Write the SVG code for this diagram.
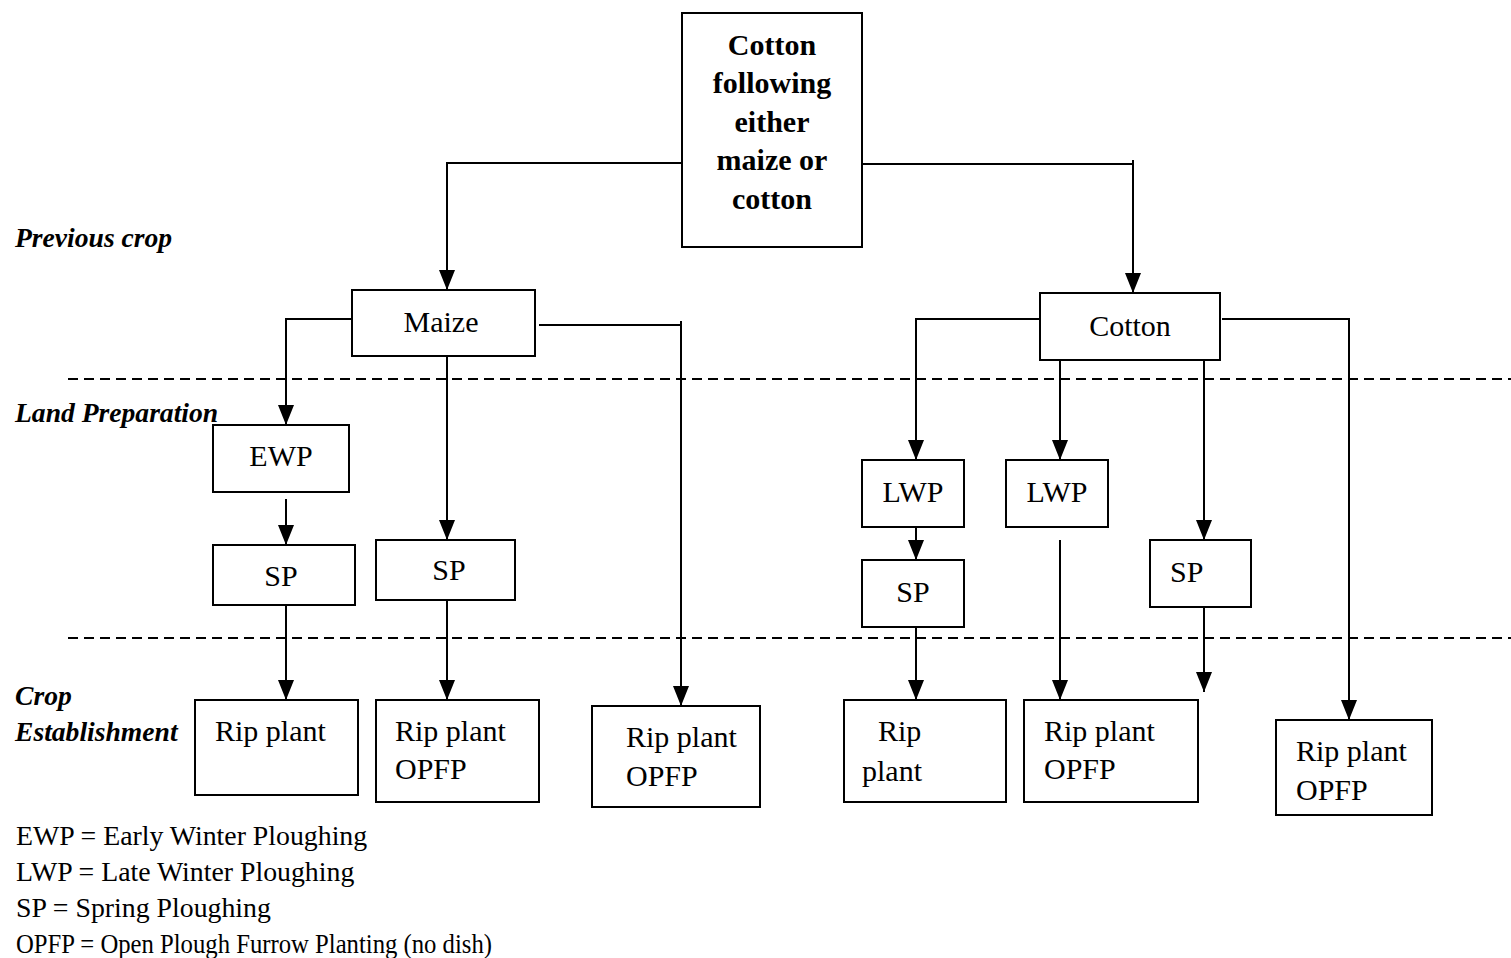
<svg xmlns="http://www.w3.org/2000/svg" width="1511" height="958" viewBox="0 0 1511 958">
<style>
.box{fill:#fff;stroke:#000;stroke-width:2}
.t{font-family:"Liberation Serif","Times New Roman",serif;font-size:30px;fill:#000}
.c{text-anchor:middle}
.b{font-weight:bold;font-size:30px}
.lab{font-family:"Liberation Serif","Times New Roman",serif;font-size:27.6px;font-weight:bold;font-style:italic;fill:#000}
.leg{font-family:"Liberation Serif","Times New Roman",serif;font-size:27.8px;fill:#000}
.ln{fill:none;stroke:#000;stroke-width:2}
.ar{marker-end:url(#ah)}
.dash{fill:none;stroke:#000;stroke-width:2;stroke-dasharray:10 6}
</style>
<defs>
<marker id="ah" viewBox="0 0 20 16" refX="20" refY="8" markerWidth="20" markerHeight="16" markerUnits="userSpaceOnUse" orient="auto">
<path d="M0,0 L20,8 L0,16 Z" fill="#000"/>
</marker>
</defs>
<rect width="1511" height="958" fill="#fff"/>

<g id="dividers">
<line class="dash" x1="68" y1="379" x2="1511" y2="379"/>
<line class="dash" x1="68" y1="638" x2="1511" y2="638"/>
</g>

<g id="labels">
<text class="lab" x="15" y="247">Previous crop</text>
<text class="lab" x="15" y="422">Land Preparation</text>
<text class="lab" x="15" y="705">Crop</text>
<text class="lab" x="15" y="741">Establishment</text>
</g>

<g id="connectors">
<path class="ln ar" d="M682,163 H447 V290"/>
<path class="ln ar" d="M862,164 H1133 M1133,160 V293"/>
<path class="ln ar" d="M358,319 H286 V425"/>
<path class="ln ar" d="M539,325 H681 M681,321 V706"/>
<path class="ln ar" d="M447,356 V540"/>
<path class="ln ar" d="M286,499 V545"/>
<path class="ln ar" d="M286,598 V700"/>
<path class="ln ar" d="M447,600 V700"/>
<path class="ln ar" d="M1043,319 H916 V460"/>
<path class="ln ar" d="M1222,319 H1349 V720"/>
<path class="ln ar" d="M1060,358 V460"/>
<path class="ln ar" d="M1204,358 V540"/>
<path class="ln ar" d="M916,520 V560"/>
<path class="ln ar" d="M916,620 V700"/>
<path class="ln ar" d="M1060,540 V700"/>
<path class="ln ar" d="M1204,600 V692"/>
</g>

<g id="root">
<rect class="box" x="682" y="13" width="180" height="234"/>
<text class="t c b" x="772" y="55">Cotton</text>
<text class="t c b" x="772" y="93">following</text>
<text class="t c b" x="772" y="132">either</text>
<text class="t c b" x="772" y="170">maize or</text>
<text class="t c b" x="772" y="209">cotton</text>
</g>

<g id="maize">
<rect class="box" x="352" y="290" width="183" height="66"/>
<text class="t c" x="441" y="332">Maize</text>
</g>
<g id="cotton">
<rect class="box" x="1040" y="293" width="180" height="67"/>
<text class="t c" x="1130" y="336">Cotton</text>
</g>

<g id="ewp">
<rect class="box" x="213" y="425" width="136" height="67"/>
<text class="t c" x="281" y="466">EWP</text>
</g>
<g id="sp1">
<rect class="box" x="213" y="545" width="142" height="60"/>
<text class="t c" x="281" y="586">SP</text>
</g>
<g id="sp2">
<rect class="box" x="376" y="540" width="139" height="60"/>
<text class="t c" x="449" y="580">SP</text>
</g>
<g id="lwp1">
<rect class="box" x="862" y="460" width="102" height="67"/>
<text class="t c" x="913" y="502">LWP</text>
</g>
<g id="sp-c1">
<rect class="box" x="862" y="560" width="102" height="67"/>
<text class="t c" x="913" y="602">SP</text>
</g>
<g id="lwp2">
<rect class="box" x="1006" y="460" width="102" height="67"/>
<text class="t c" x="1057" y="502">LWP</text>
</g>
<g id="sp3">
<rect class="box" x="1150" y="540" width="101" height="67"/>
<text class="t" x="1170" y="582">SP</text>
</g>

<g id="rip1">
<rect class="box" x="195" y="700" width="163" height="95"/>
<text class="t" x="215" y="741">Rip plant</text>
</g>
<g id="rip2">
<rect class="box" x="376" y="700" width="163" height="102"/>
<text class="t" x="395" y="741">Rip plant</text>
<text class="t" x="395" y="779">OPFP</text>
</g>
<g id="rip3">
<rect class="box" x="592" y="706" width="168" height="101"/>
<text class="t" x="626" y="747">Rip plant</text>
<text class="t" x="626" y="786">OPFP</text>
</g>
<g id="rip4">
<rect class="box" x="844" y="700" width="162" height="102"/>
<text class="t" x="878" y="741">Rip</text>
<text class="t" x="862" y="781">plant</text>
</g>
<g id="rip5">
<rect class="box" x="1024" y="700" width="174" height="102"/>
<text class="t" x="1044" y="741">Rip plant</text>
<text class="t" x="1044" y="779">OPFP</text>
</g>
<g id="rip6">
<rect class="box" x="1276" y="720" width="156" height="95"/>
<text class="t" x="1296" y="761">Rip plant</text>
<text class="t" x="1296" y="800">OPFP</text>
</g>

<g id="legend">
<text class="leg" x="16" y="845">EWP = Early Winter Ploughing</text>
<text class="leg" x="16" y="881">LWP = Late Winter Ploughing</text>
<text class="leg" x="16" y="917">SP = Spring Ploughing</text>
<text class="leg" x="16" y="953" textLength="476" lengthAdjust="spacingAndGlyphs">OPFP = Open Plough Furrow Planting (no dish)</text>
</g>
</svg>
